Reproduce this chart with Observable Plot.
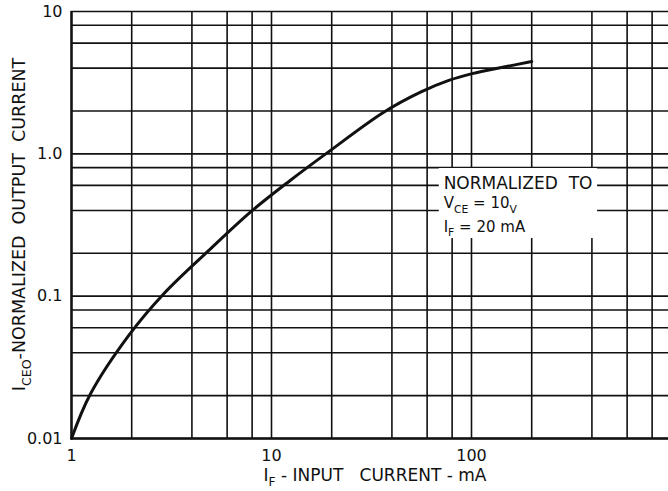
<!DOCTYPE html>
<html><head><meta charset="utf-8">
<script src="https://cdn.jsdelivr.net/npm/d3@7"></script>
<script src="https://cdn.jsdelivr.net/npm/@observablehq/plot@0.6"></script>
<style>html,body{margin:0;padding:0;background:#fff;} svg{display:block}</style>
</head><body><div id="chart"></div>
<script>
// Curve: normalized output current vs input current (mA)
const curveX = [1, 1.245, 1.934, 2.894, 4.86, 7.92, 12.4, 19.2, 36.4, 55.6, 77, 100.8, 145, 200];
const curveY = [0.01, 0.0206, 0.053, 0.104, 0.2095, 0.394, 0.650, 1.028, 1.96, 2.714, 3.28, 3.66, 4.07, 4.45];

// Grid lines (log paper)
const xGrid = [1, 2, 4, 6, 8, 10, 20, 40, 60, 80, 100, 200, 400, 600, 800, 1000];
const yGrid = [0.01, 0.02, 0.04, 0.06, 0.08, 0.1, 0.2, 0.4, 0.6, 0.8, 1, 2, 4, 6, 8, 10];

// Tick labels
const xTickValues = [1, 10, 100];
const xTickLabels = ["1", "10", "100"];
const yTickValues = [0.01, 0.1, 1, 10];
const yTickLabels = ["0.01", "0.1", "1.0", "10"];

// Note box (in data units) and note anchor
const noteBoxX = [69, 427];
const noteBoxY = [0.254, 0.789];
const noteX = 73;
const noteY = [0.56, 0.41, 0.282];

const curve = curveX.map((x, i) => ({x, y: curveY[i]}));
const box = [{x1: noteBoxX[0], x2: noteBoxX[1], y1: noteBoxY[0], y2: noteBoxY[1]}];

const ink = "#111";
const plot = Plot.plot({
  width: 668, height: 491,
  marginLeft: 71, marginTop: 11, marginBottom: 53, marginRight: 0,
  style: {fontFamily: "'DejaVu Sans', sans-serif", fontSize: "16px", color: ink, background: "#fff"},
  x: {type: "log", domain: [1, 1000], range: [71, 671]},
  y: {type: "log", domain: [0.01, 10]},
  marks: [
    Plot.ruleX(xGrid, {stroke: ink, strokeWidth: 1.6}),
    Plot.ruleY(yGrid, {stroke: ink, strokeWidth: 1.6}),
    Plot.rect(box, {x1: "x1", x2: "x2", y1: "y1", y2: "y2", fill: "white"}),
    Plot.ruleX([1], {stroke: ink, strokeWidth: 2.4}),
    Plot.ruleY([0.01], {stroke: ink, strokeWidth: 2.4}),
    Plot.line(curve, {x: "x", y: "y", stroke: ink, strokeWidth: 3, curve: "catmull-rom"}),
    Plot.axisX({ticks: xTickValues, tickSize: 0, tickPadding: 11, fontSize: 16,
      tickFormat: d => xTickLabels[xTickValues.indexOf(d)], label: null}),
    Plot.axisY({ticks: yTickValues, tickSize: 0, tickPadding: 9, fontSize: 16,
      tickFormat: d => yTickLabels[yTickValues.indexOf(d)], label: null})
  ]
});
document.getElementById("chart").appendChild(plot);

const svg = d3.select(plot);
const xs = plot.scale("x"), ys = plot.scale("y");
const sx = d3.scaleLog(xs.domain, xs.range);
const sy = d3.scaleLog(ys.domain, ys.range);
const font = "'DejaVu Sans', sans-serif";

function addRich(g, parts, size) {
  parts.forEach(p => {
    const t = g.append("tspan").text(p.t);
    if (p.sub) t.attr("font-size", size * 0.72).attr("dy", size * 0.32);
    else if (p.back) t.attr("dy", -size * 0.32);
  });
}

// X axis title
const xc = (xs.range[0] + xs.range[1]) / 2 + 4;
const xt = svg.append("text").attr("x", xc).attr("y", sy(0.01) + 43)
  .attr("text-anchor", "middle").attr("font-family", font).attr("font-size", 17).attr("fill", ink);
addRich(xt, [{t: "I"}, {t: "F", sub: true}, {t: " - INPUT\u00A0\u00A0 CURRENT - mA", back: true}], 17);

// Y axis title
const yc = (sy(0.01) + sy(10)) / 2;
const yt = svg.append("text").attr("transform", `translate(25,${yc}) rotate(-90)`)
  .attr("text-anchor", "middle").attr("font-family", font).attr("font-size", 17.5).attr("fill", ink);
addRich(yt, [{t: "I"}, {t: "CEO", sub: true}, {t: "-NORMALIZED\u00A0 OUTPUT\u00A0 CURRENT", back: true}], 17.5);

// Note
const nx = sx(noteX);
const n1 = svg.append("text").attr("x", nx).attr("y", sy(noteY[0])).attr("text-anchor", "start")
  .attr("font-family", font).attr("font-size", 17).attr("fill", ink);
n1.text("NORMALIZED\u00A0 TO");
const n2 = svg.append("text").attr("x", nx).attr("y", sy(noteY[1])).attr("text-anchor", "start")
  .attr("font-family", font).attr("font-size", 15).attr("fill", ink);
addRich(n2, [{t: "V"}, {t: "CE", sub: true}, {t: " = 10", back: true}, {t: "V", sub: true}], 15);
const n3 = svg.append("text").attr("x", nx).attr("y", sy(noteY[2])).attr("text-anchor", "start")
  .attr("font-family", font).attr("font-size", 15).attr("fill", ink);
addRich(n3, [{t: "I"}, {t: "F", sub: true}, {t: " = 20 mA", back: true}], 15);
</script>
</body></html>
